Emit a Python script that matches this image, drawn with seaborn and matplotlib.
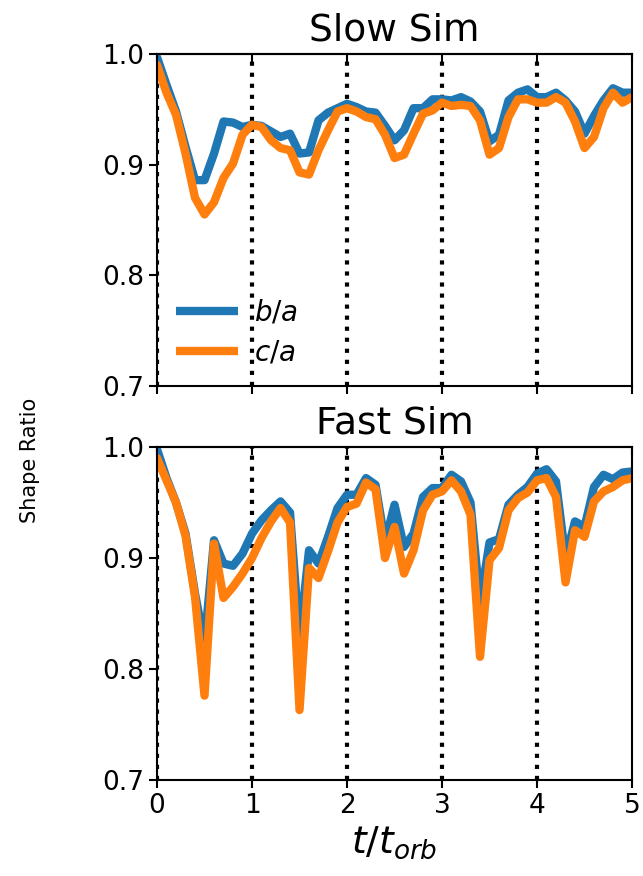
import numpy as np
import pandas as pd
import matplotlib
matplotlib.use("Agg")
import matplotlib.pyplot as plt
import seaborn as sns

# Sampling times in units of the orbital time
t = np.round(np.linspace(0, 5, 51), 1)

# Slow simulation axis ratios
slow_ba = [0.997, 0.972, 0.948, 0.916, 0.886, 0.886, 0.910, 0.939, 0.938, 0.934,
           0.936, 0.935, 0.930, 0.925, 0.928, 0.910, 0.911, 0.940, 0.947, 0.951,
           0.955, 0.952, 0.948, 0.947, 0.935, 0.922, 0.931, 0.951, 0.951, 0.959,
           0.959, 0.958, 0.961, 0.957, 0.948, 0.921, 0.927, 0.958, 0.965, 0.968,
           0.961, 0.961, 0.965, 0.958, 0.948, 0.928, 0.944, 0.958, 0.969, 0.965,
           0.965]
slow_ca = [0.990, 0.965, 0.945, 0.910, 0.870, 0.855, 0.866, 0.888, 0.901, 0.927,
           0.936, 0.934, 0.922, 0.915, 0.913, 0.893, 0.891, 0.913, 0.931, 0.948,
           0.951, 0.948, 0.943, 0.941, 0.927, 0.906, 0.909, 0.928, 0.946, 0.949,
           0.956, 0.953, 0.954, 0.953, 0.940, 0.909, 0.915, 0.943, 0.959, 0.959,
           0.956, 0.956, 0.961, 0.956, 0.939, 0.915, 0.925, 0.951, 0.965, 0.956,
           0.961]

# Fast simulation axis ratios
fast_ba = [0.998, 0.972, 0.950, 0.922, 0.868, 0.823, 0.916, 0.895, 0.893, 0.904,
           0.922, 0.934, 0.943, 0.951, 0.941, 0.827, 0.907, 0.895, 0.919, 0.945,
           0.957, 0.957, 0.972, 0.966, 0.914, 0.948, 0.910, 0.922, 0.955, 0.963,
           0.963, 0.975, 0.969, 0.950, 0.860, 0.914, 0.917, 0.948, 0.957, 0.964,
           0.976, 0.980, 0.969, 0.900, 0.933, 0.928, 0.964, 0.975, 0.971, 0.977,
           0.978]
fast_ca = [0.990, 0.970, 0.950, 0.920, 0.865, 0.776, 0.913, 0.864, 0.874, 0.886,
           0.900, 0.918, 0.933, 0.945, 0.932, 0.763, 0.891, 0.882, 0.906, 0.932,
           0.946, 0.949, 0.968, 0.962, 0.900, 0.928, 0.886, 0.907, 0.943, 0.957,
           0.960, 0.970, 0.960, 0.939, 0.811, 0.898, 0.909, 0.943, 0.954, 0.959,
           0.970, 0.972, 0.955, 0.878, 0.925, 0.919, 0.951, 0.960, 0.964, 0.970,
           0.972]

panel_titles = ["Slow Sim", "Fast Sim"]
ratio_labels = ["$b/a$", "$c/a$"]
y_ticks = [0.7, 0.8, 0.9, 1.0]
x_ticks = [0, 1, 2, 3, 4, 5]
orbit_marks = [0, 1, 2, 3, 4]

sns.set_theme(style="ticks")
plt.rcParams["font.family"] = ["DejaVu Sans"]
plt.rcParams["mathtext.fontset"] = "dejavusans"
plt.rcParams["text.color"] = "black"
plt.rcParams["axes.labelcolor"] = "black"
plt.rcParams["xtick.color"] = "black"
plt.rcParams["ytick.color"] = "black"

fig = plt.figure(figsize=(6.43, 8.76), dpi=100)
ax_top = fig.add_axes([0.2442, 0.5594, 0.7387, 0.3790])
ax_bot = fig.add_axes([0.2442, 0.1096, 0.7387, 0.3801], sharex=ax_top)

palette = {"$b/a$": "#1f77b4", "$c/a$": "#ff7f0e"}

for ax, title, ba, ca in [(ax_top, panel_titles[0], slow_ba, slow_ca),
                          (ax_bot, panel_titles[1], fast_ba, fast_ca)]:
    df = pd.DataFrame({
        "t": np.concatenate([t, t]),
        "ratio": np.concatenate([ba, ca]),
        "kind": [ratio_labels[0]] * len(t) + [ratio_labels[1]] * len(t),
    })
    sns.lineplot(data=df, x="t", y="ratio", hue="kind", palette=palette,
                 linewidth=6, ax=ax, legend=(ax is ax_top))
    for x in orbit_marks:
        ax.axvline(x, color="black", linestyle=":", linewidth=3, zorder=0.5)
    ax.set_xlim(0, 5)
    ax.set_ylim(0.7, 1.0)
    ax.set_yticks(y_ticks)
    ax.set_xticks(x_ticks)
    ax.set_title(title, fontsize=27, pad=10, color="black")
    ax.set_xlabel("")
    ax.set_ylabel("")
    ax.tick_params(axis="both", labelsize=19, length=6, width=1.5,
                   direction="out", colors="black")
    # inward ticks along the top edge
    top = ax.secondary_xaxis("top")
    top.set_xticks(x_ticks)
    top.tick_params(direction="in", length=6, width=1.5, labeltop=False,
                    colors="black")
    top.spines["top"].set_linewidth(1.5)
    top.spines["top"].set_color("black")
    for s in ax.spines.values():
        s.set_visible(True)
        s.set_linewidth(1.5)
        s.set_color("black")

ax_top.tick_params(axis="x", labelbottom=False)
ax_top.yaxis.set_major_formatter(matplotlib.ticker.FormatStrFormatter("%.1f"))
ax_bot.yaxis.set_major_formatter(matplotlib.ticker.FormatStrFormatter("%.1f"))

leg = ax_top.legend(loc="lower left", frameon=False, fontsize=20,
                    handlelength=2.2, handletextpad=0.6, borderaxespad=0.3,
                    labelspacing=0.42)
for line in leg.get_lines():
    line.set_linewidth(6)
    line.set_solid_capstyle("butt")
for txt in leg.get_texts():
    txt.set_color("black")

ax_bot.set_xlabel("$t/t_{orb}$", fontsize=27, color="black")
fig.text(0.047, 0.475, "Shape Ratio", rotation=90, fontsize=15,
         ha="center", va="center", color="black")

fig.savefig("out.png", dpi=100)
